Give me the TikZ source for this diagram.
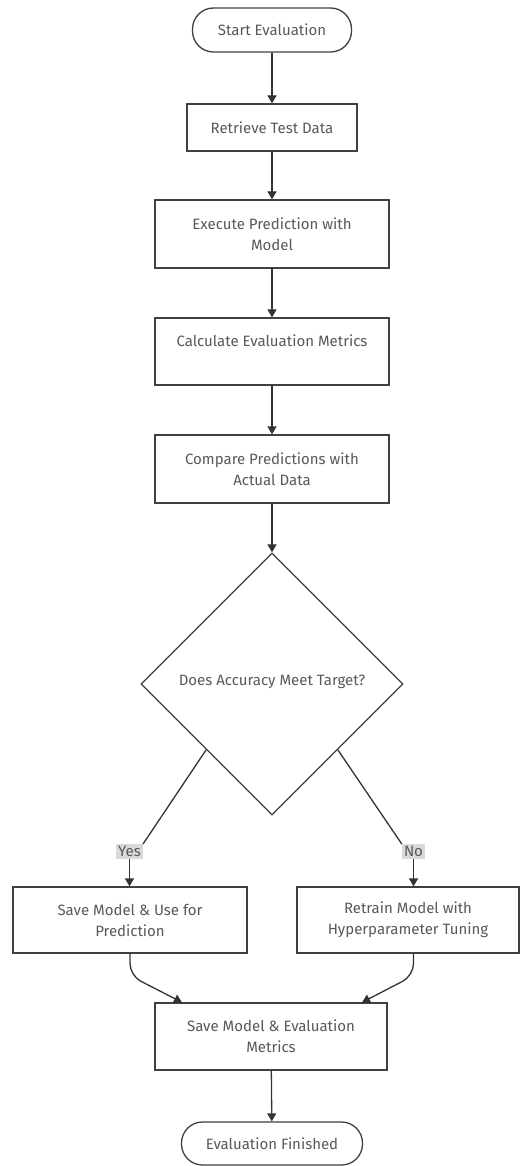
\documentclass[tikz,border=0pt]{standalone}
\usepackage{fontspec}
\setmainfont{Fira Sans}
\usepackage{tikz}
\usetikzlibrary{arrows.meta}
\usetikzlibrary{shapes.geometric}
\usetikzlibrary{calc}

\begin{document}
\begin{tikzpicture}[x=1pt,y=-1pt,
        font=\fontsize{15}{21}\selectfont,
        stepbox/.style={draw=black!75,line width=1.3pt,fill=white,text=black!65,align=center,inner sep=2pt},
        endbox/.style={stepbox,rounded corners=21pt},
        choice/.style={stepbox,diamond,aspect=1,inner sep=0pt},
        answer/.style={fill=black!15,text=black!65,inner sep=2pt},
        flow/.style={draw=black!80,line width=1.3pt,-{Triangle[length=8pt,width=9pt]}},
        link/.style={draw=black!80,line width=1.3pt}]
            %%% CANVAS %%%
            \useasboundingbox[fill=white] (0,0) rectangle (521,1166);

            %%% NODES %%%
            \node[endbox,minimum width=159pt,minimum height=44pt] (start) at (272,30) {Start Evaluation};
            \node[stepbox,minimum width=170pt,minimum height=47pt] (getdata) at (272,127.5) {Retrieve Test Data};
            \node[stepbox,minimum width=234pt,minimum height=68pt] (predict) at (272,234) {Execute Prediction with\\Model};
            \node[stepbox,minimum width=234pt,minimum height=67pt] (metrics) at (272,351.5) {Calculate Evaluation Metrics\\\mbox{}};
            \node[stepbox,minimum width=234pt,minimum height=68pt] (compare) at (272,469) {Compare Predictions with\\Actual Data};
            \node[choice,minimum width=262pt,minimum height=262pt] (check) at (272,684) {\raisebox{8pt}{Does Accuracy Meet Target?}};
            \node[answer] (yes) at (129.5,851.5) {Yes};
            \node[answer] (no) at (413.5,851.5) {No};
            \node[stepbox,minimum width=234pt,minimum height=66pt] (savemodel) at (130,920) {Save Model \& Use for\\Prediction};
            \node[stepbox,minimum width=222pt,minimum height=66pt] (retrain) at (408,920) {Retrain Model with\\Hyperparameter Tuning};
            \node[stepbox,minimum width=232pt,minimum height=67pt] (saveall) at (271,1036.5) {Save Model \& Evaluation\\Metrics};
            \node[endbox,minimum width=181pt,minimum height=43pt] (finish) at (272,1143.5) {Evaluation Finished};

            %%% COORDINATES %%%
            \coordinate (inleft) at ($(saveall.north)+(-89,0)$);
            \coordinate (inright) at ($(saveall.north)+(91,0)$);

            %%% ARROWS %%%
            \draw[flow] (start)--(getdata);
            \draw[flow] (getdata)--(predict);
            \draw[flow] (predict)--(metrics);
            \draw[flow] (metrics)--(compare);
            \draw[flow] (compare)--(check);
            \draw[link] (check.south west)--(yes.north east);
            \draw[flow] (yes)--(yes |- savemodel.north);
            \draw[link] (check.south east)--(no.north west);
            \draw[flow] (no)--(no |- retrain.north);
            \draw[flow,rounded corners=12pt] (savemodel.south)--++(0,22)--(inleft);
            \draw[flow,rounded corners=12pt] (no |- retrain.south)--++(0,22)--(inright);
            \draw[flow] (saveall)--(finish);
\end{tikzpicture}
\end{document}
